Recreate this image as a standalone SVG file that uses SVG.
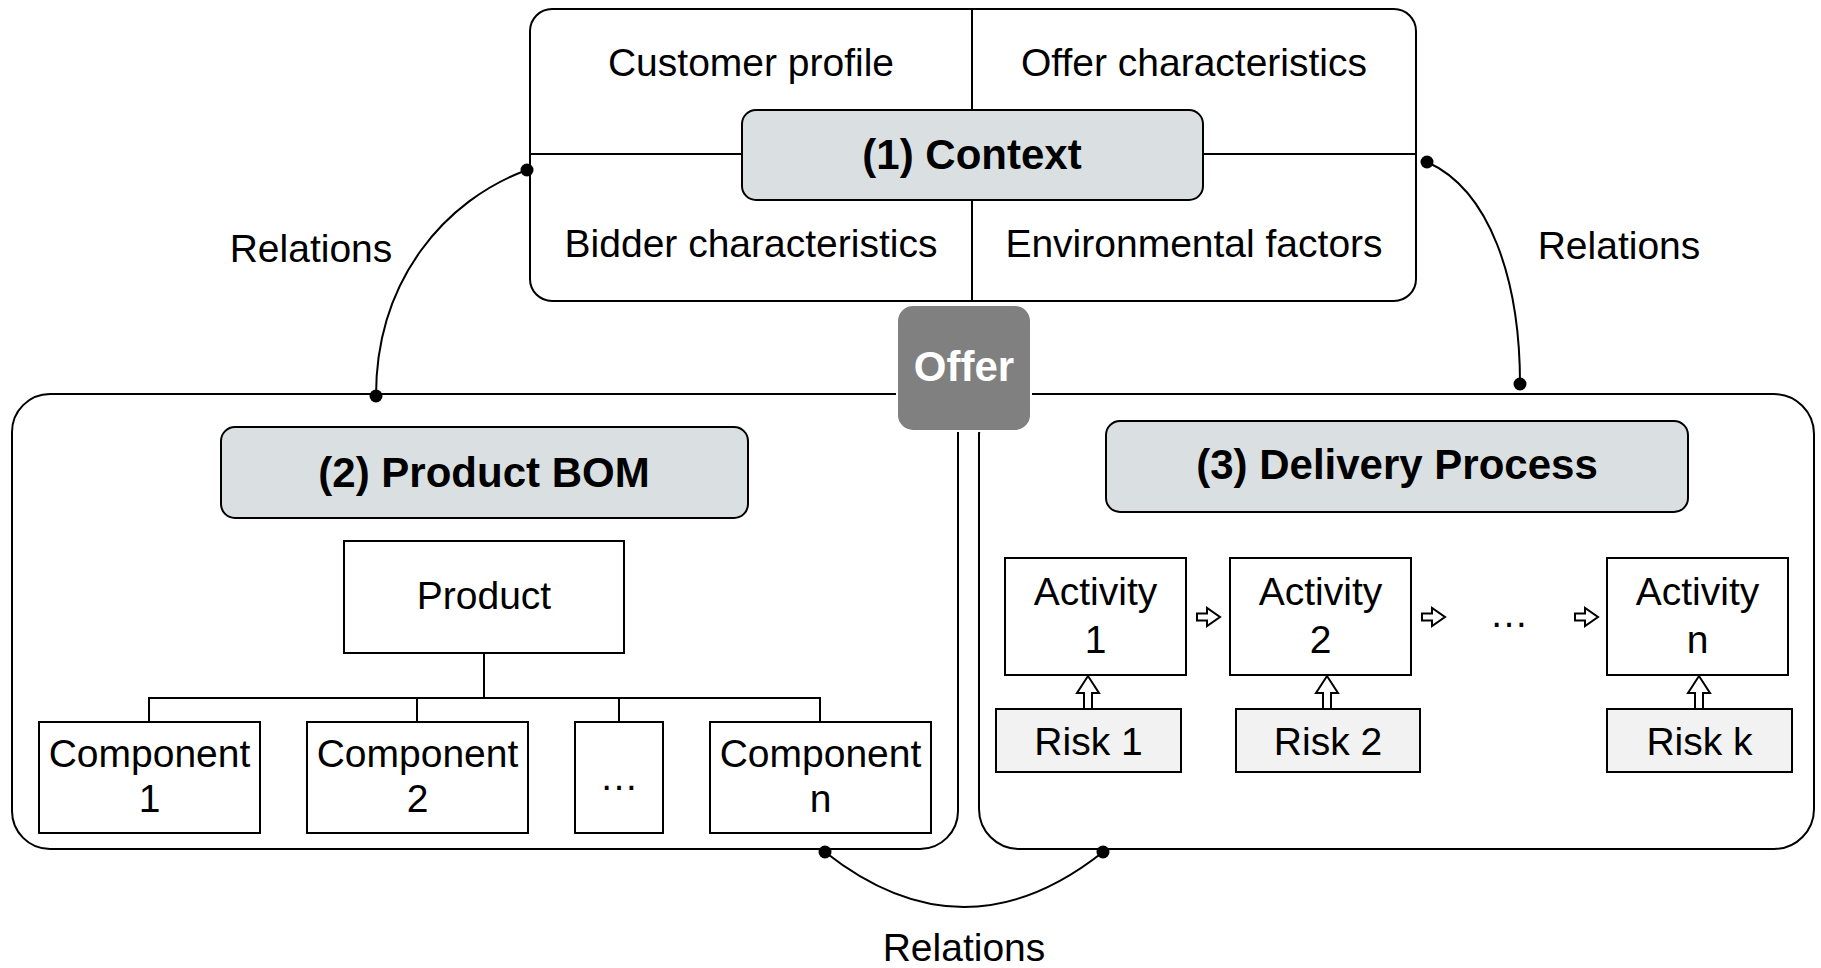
<svg xmlns="http://www.w3.org/2000/svg" width="1821" height="968" viewBox="0 0 1821 968">
<style>
.box{fill:#fff;stroke:#000;stroke-width:2}
.hdr{fill:#dae0e2;stroke:#000;stroke-width:2}
.risk{fill:#f2f2f2;stroke:#000;stroke-width:2}
.ln{fill:none;stroke:#000;stroke-width:2}
.t{font-family:"Liberation Sans",Arial,sans-serif;font-size:39px;fill:#000;text-anchor:middle}
.b{font-family:"Liberation Sans",Arial,sans-serif;font-size:42px;font-weight:bold;fill:#000;text-anchor:middle}
.dot{fill:#000}
.barrow{fill:#fff;stroke:#000;stroke-width:2}
</style>

<g id="context">
  <rect class="box" x="530" y="9" width="886" height="292" rx="22"/>
  <line class="ln" x1="972" y1="9" x2="972" y2="110"/>
  <line class="ln" x1="972" y1="200" x2="972" y2="301"/>
  <line class="ln" x1="530" y1="154" x2="742" y2="154"/>
  <line class="ln" x1="1203" y1="154" x2="1416" y2="154"/>
  <rect class="hdr" x="742" y="110" width="461" height="90" rx="14"/>
  <text class="b" x="972" y="169">(1) Context</text>
  <text class="t" x="751" y="76">Customer profile</text>
  <text class="t" x="1194" y="76">Offer characteristics</text>
  <text class="t" x="751" y="257">Bidder characteristics</text>
  <text class="t" x="1194" y="257">Environmental factors</text>
</g>

<g id="product-bom">
  <rect class="box" x="12" y="394" width="946" height="455" rx="38"/>
  <rect class="hdr" x="221" y="427" width="527" height="91" rx="14"/>
  <text class="b" x="484" y="487">(2) Product BOM</text>
  <g id="product">
    <rect class="box" x="344" y="541" width="280" height="112"/>
    <text class="t" x="484" y="609">Product</text>
  </g>
  <path class="ln" d="M484,653 V698 M149,722 V698 H820 V722 M417,698 V722 M619,698 V722"/>
  <g id="component-1">
    <rect class="box" x="39" y="722" width="221" height="111"/>
    <text class="t" x="149.5" y="767">Component</text>
    <text class="t" x="149.5" y="812">1</text>
  </g>
  <g id="component-2">
    <rect class="box" x="307" y="722" width="221" height="111"/>
    <text class="t" x="417.5" y="767">Component</text>
    <text class="t" x="417.5" y="812">2</text>
  </g>
  <g id="component-dots">
    <rect class="box" x="575" y="722" width="88" height="111"/>
    <text class="t" x="619" y="790">…</text>
  </g>
  <g id="component-n">
    <rect class="box" x="710" y="722" width="221" height="111"/>
    <text class="t" x="820.5" y="767">Component</text>
    <text class="t" x="820.5" y="812">n</text>
  </g>
</g>

<g id="delivery-process">
  <rect class="box" x="979" y="394" width="835" height="455" rx="40"/>
  <rect class="hdr" x="1106" y="421" width="582" height="91" rx="14"/>
  <text class="b" x="1397" y="479">(3) Delivery Process</text>
  <g id="activity-1">
    <rect class="box" x="1005" y="558" width="181" height="117"/>
    <text class="t" x="1095.5" y="605">Activity</text>
    <text class="t" x="1095.5" y="653">1</text>
  </g>
  <g id="activity-2">
    <rect class="box" x="1230" y="558" width="181" height="117"/>
    <text class="t" x="1320.5" y="605">Activity</text>
    <text class="t" x="1320.5" y="653">2</text>
  </g>
  <text class="t" x="1509" y="627">…</text>
  <g id="activity-n">
    <rect class="box" x="1607" y="558" width="181" height="117"/>
    <text class="t" x="1697.5" y="605">Activity</text>
    <text class="t" x="1697.5" y="653">n</text>
  </g>
  <g id="risk-1">
    <rect class="risk" x="996" y="709" width="185" height="63"/>
    <text class="t" x="1088.5" y="755">Risk 1</text>
  </g>
  <g id="risk-2">
    <rect class="risk" x="1236" y="709" width="184" height="63"/>
    <text class="t" x="1328" y="755">Risk 2</text>
  </g>
  <g id="risk-k">
    <rect class="risk" x="1607" y="709" width="185" height="63"/>
    <text class="t" x="1699.5" y="755">Risk k</text>
  </g>
</g>

<g id="connectors">
  <path class="barrow" d="M1197,613.5 H1207 V608 L1220,617 L1207,626 V620.5 H1197 Z"/>
  <path class="barrow" d="M1422,613.5 H1432 V608 L1445,617 L1432,626 V620.5 H1422 Z"/>
  <path class="barrow" d="M1575,613.5 H1585 V608 L1598,617 L1585,626 V620.5 H1575 Z"/>
  <path class="barrow" d="M1084,709 V693 H1077 L1088,676 L1099,693 H1092 V709 Z"/>
  <path class="barrow" d="M1323,709 V693 H1316 L1327,676 L1338,693 H1331 V709 Z"/>
  <path class="barrow" d="M1695,709 V693 H1688 L1699,676 L1710,693 H1703 V709 Z"/>
  <path class="ln" d="M527,170 C445,200 376,280 376,396"/>
  <path class="ln" d="M1427,162 C1490,190 1520,280 1520,384"/>
  <path class="ln" d="M825,852 Q964,962 1103,852"/>
  <circle class="dot" cx="527" cy="170" r="6.5"/>
  <circle class="dot" cx="376" cy="396" r="6.5"/>
  <circle class="dot" cx="1427" cy="162" r="6.5"/>
  <circle class="dot" cx="1520" cy="384" r="6.5"/>
  <circle class="dot" cx="825" cy="852" r="6.5"/>
  <circle class="dot" cx="1103" cy="852" r="6.5"/>
  <text class="t" x="311" y="262">Relations</text>
  <text class="t" x="1619" y="259">Relations</text>
  <text class="t" x="964" y="961">Relations</text>
</g>

<g id="offer">
  <rect x="897" y="305" width="134" height="126" rx="16" fill="#808080" stroke="#fff" stroke-width="2"/>
  <text class="b" x="964" y="381" style="fill:#fff">Offer</text>
</g>
</svg>
